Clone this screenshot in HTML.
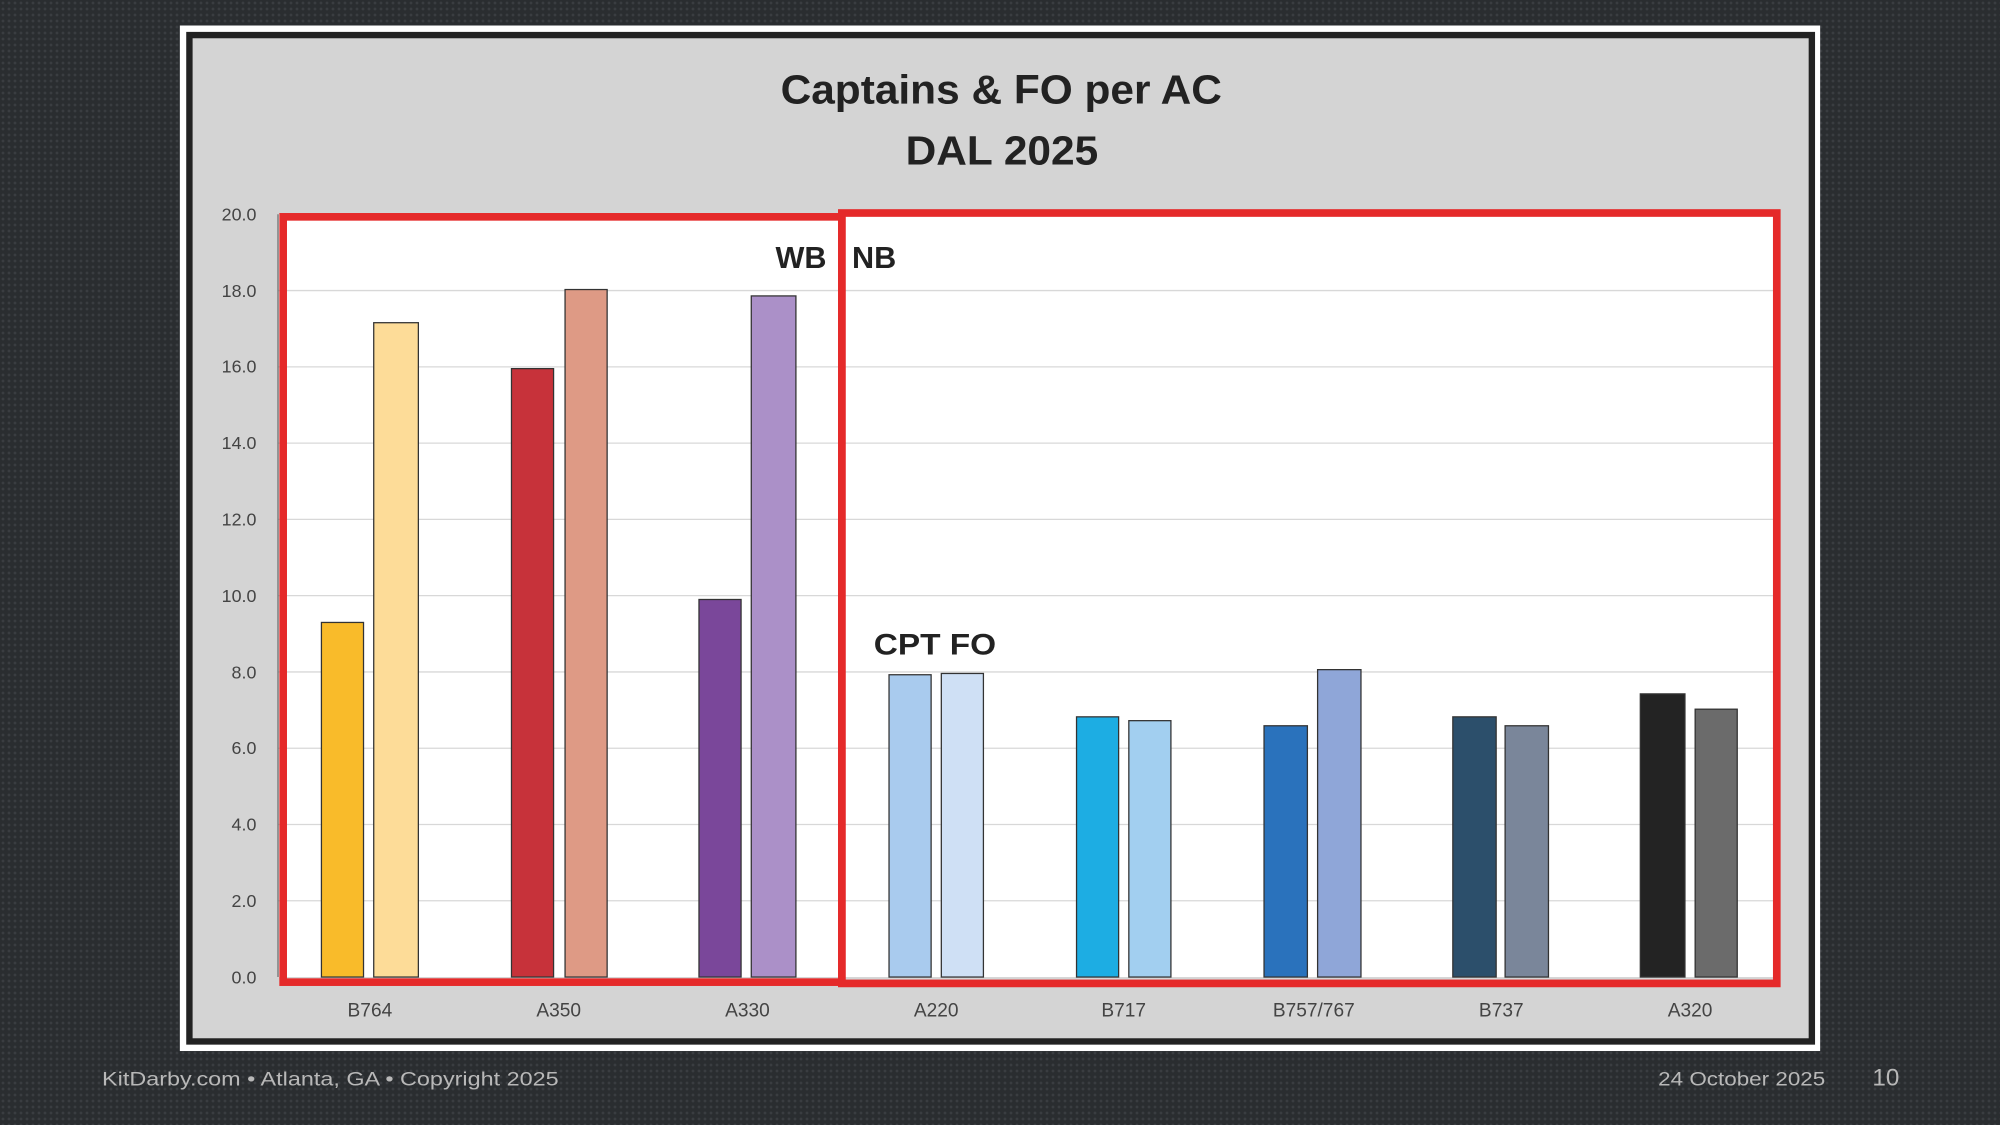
<!DOCTYPE html>
<html><head><meta charset="utf-8"><style>
html,body{margin:0;padding:0;width:2000px;height:1125px;overflow:hidden;background:#2b2e31;}
.bg{position:absolute;left:0;top:0;width:2000px;height:1125px;background-color:#2a2d30;background-image:radial-gradient(circle,#3a3d41 1.2px,transparent 1.6px);background-size:6px 6px;}
svg{position:absolute;left:0;top:0;}
text{font-family:"Liberation Sans",sans-serif;}
</style></head><body><div class="bg"></div>
<svg width="2000" height="1125" viewBox="0 0 1568 882">
<rect x="141" y="20" width="1286" height="804" fill="#fff"/>
<rect x="146" y="25" width="1277" height="794" fill="#222"/>
<rect x="151" y="30" width="1267" height="784" fill="#d4d4d4"/>
<text x="612" y="81" font-size="32" font-weight="bold" fill="#222" textLength="346" lengthAdjust="spacingAndGlyphs">Captains &amp; FO per AC</text>
<text x="710" y="129" font-size="32" font-weight="bold" fill="#222" textLength="151" lengthAdjust="spacingAndGlyphs">DAL 2025</text>
<rect x="218" y="168" width="1177" height="598" fill="#fff"/>
<g stroke="#d8d8d8" stroke-width="1">
<line x1="218" x2="1395" y1="706.2" y2="706.2"/><line x1="218" x2="1395" y1="646.4" y2="646.4"/>
<line x1="218" x2="1395" y1="586.6" y2="586.6"/><line x1="218" x2="1395" y1="526.8" y2="526.8"/>
<line x1="218" x2="1395" y1="467" y2="467"/><line x1="218" x2="1395" y1="407.2" y2="407.2"/>
<line x1="218" x2="1395" y1="347.4" y2="347.4"/><line x1="218" x2="1395" y1="287.6" y2="287.6"/>
<line x1="218" x2="1395" y1="227.8" y2="227.8"/>
</g>
<line x1="218" y1="168" x2="218" y2="766" stroke="#666"/>
<g font-size="14" fill="#444" text-anchor="end">
<text x="201" y="771">0.0</text><text x="201" y="711">2.0</text><text x="201" y="651">4.0</text>
<text x="201" y="591">6.0</text><text x="201" y="532">8.0</text><text x="201" y="472">10.0</text>
<text x="201" y="412">12.0</text><text x="201" y="352">14.0</text><text x="201" y="292">16.0</text>
<text x="201" y="233">18.0</text><text x="201" y="173">20.0</text>
</g>
<g stroke="#333" stroke-width="1">
<rect x="252" y="488" width="33" height="278" fill="#F9BB2A"/>
<rect x="293" y="253" width="35" height="513" fill="#FDDC98"/>
<rect x="401" y="289" width="33" height="477" fill="#C7323A"/>
<rect x="443" y="227" width="33" height="539" fill="#DE9A85"/>
<rect x="548" y="470" width="33" height="296" fill="#7A479A"/>
<rect x="589" y="232" width="35" height="534" fill="#AB90C8"/>
<rect x="697" y="529" width="33" height="237" fill="#A9CBEE"/>
<rect x="738" y="528" width="33" height="238" fill="#CFE0F5"/>
<rect x="844" y="562" width="33" height="204" fill="#1DADE3"/>
<rect x="885" y="565" width="33" height="201" fill="#A2CFF0"/>
<rect x="991" y="569" width="34" height="197" fill="#2A72BC"/>
<rect x="1033" y="525" width="34" height="241" fill="#8FA6D8"/>
<rect x="1139" y="562" width="34" height="204" fill="#2C4F6B"/>
<rect x="1180" y="569" width="34" height="197" fill="#7A869A"/>
<rect x="1286" y="544" width="35" height="222" fill="#232323"/>
<rect x="1329" y="556" width="33" height="210" fill="#6B6B6B"/>
</g>
<g font-size="15" fill="#444" text-anchor="middle">
<text x="290" y="797">B764</text><text x="438" y="797">A350</text><text x="586" y="797">A330</text>
<text x="734" y="797">A220</text><text x="881" y="797">B717</text><text x="1030" y="797">B757/767</text>
<text x="1177" y="797">B737</text><text x="1325" y="797">A320</text>
</g>
<rect x="222" y="170" width="438" height="600" fill="none" stroke="#e52a2a" stroke-width="6"/>
<rect x="660" y="167" width="733" height="604" fill="none" stroke="#e52a2a" stroke-width="6"/>
<text x="608" y="210" font-size="24" font-weight="bold" fill="#222">WB</text>
<text x="668" y="210" font-size="24" font-weight="bold" fill="#222">NB</text>
<text x="685" y="513" font-size="23" font-weight="bold" fill="#222" textLength="96" lengthAdjust="spacingAndGlyphs">CPT FO</text>
<text x="80" y="851" font-size="15" fill="#b8b8b8" textLength="358" lengthAdjust="spacingAndGlyphs">KitDarby.com • Atlanta, GA • Copyright 2025</text>
<text x="1300" y="851" font-size="15" fill="#b8b8b8" textLength="131" lengthAdjust="spacingAndGlyphs">24 October 2025</text>
<text x="1468" y="851" font-size="19" fill="#b8b8b8">10</text>
</svg>
</body></html>
